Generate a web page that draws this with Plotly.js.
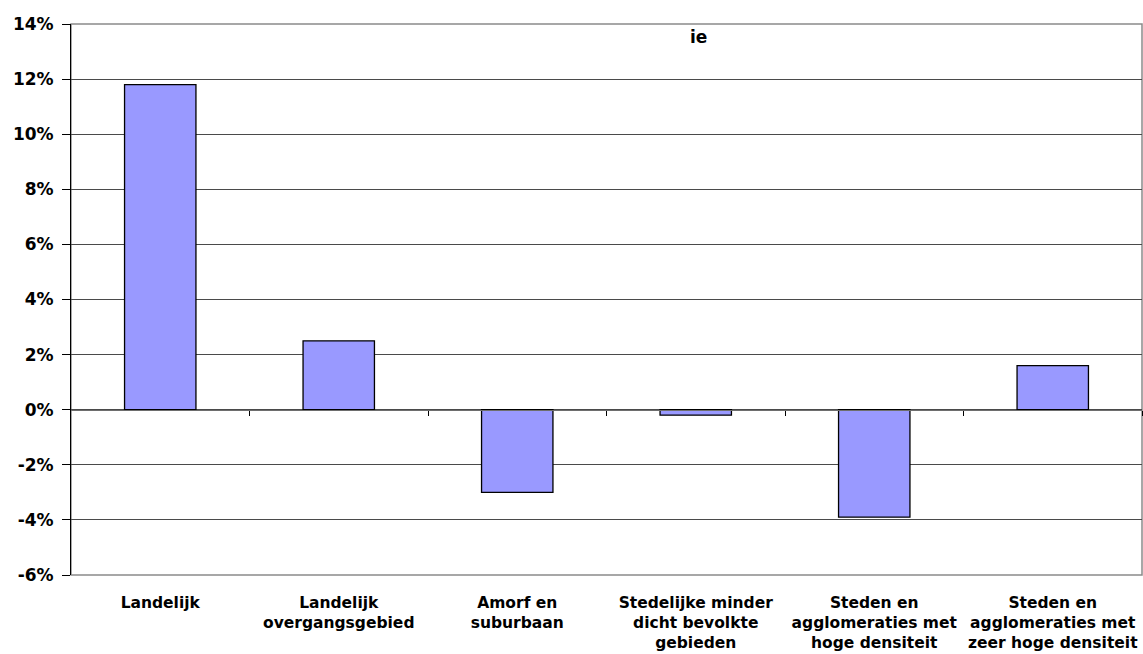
<!DOCTYPE html>
<html>
<head>
<meta charset="utf-8">
<script src="https://cdn.plot.ly/plotly-3.0.1.min.js"></script>
<style>
  html, body { margin: 0; padding: 0; background: #ffffff; }
  #chart { width: 1143px; height: 654px; }
</style>
</head>
<body>
<div id="chart"></div>
<script>
// Regions by degree of urbanisation
const categories = [
  'Landelijk',
  'Landelijk overgangsgebied',
  'Amorf en suburbaan',
  'Stedelijke minder dicht bevolkte gebieden',
  'Steden en agglomeraties met hoge densiteit',
  'Steden en agglomeraties met zeer hoge densiteit'
];

// Axis labels, wrapped over several lines
const categoryLabels = [
  'Landelijk',
  'Landelijk<br>overgangsgebied',
  'Amorf en<br>suburbaan',
  'Stedelijke minder<br>dicht bevolkte<br>gebieden',
  'Steden en<br>agglomeraties met<br>hoge densiteit',
  'Steden en<br>agglomeraties met<br>zeer hoge densiteit'
];

// Relative change per region (fraction)
const values = [0.118, 0.025, -0.030, -0.002, -0.039, 0.016];

// Value axis ticks
const yTickVals = [-0.06, -0.04, -0.02, 0, 0.02, 0.04, 0.06, 0.08, 0.10, 0.12, 0.14];
const yTickText = ['-6%', '-4%', '-2%', '0%', '2%', '4%', '6%', '8%', '10%', '12%', '14%'];

const FONT = '"DejaVu Sans", Arial, sans-serif';

// Tick marks between the categories on the zero line
const boundaryTicks = categories.map((c, i) => i + 0.5);

const trace = {
  type: 'bar',
  x: categories,
  y: values,
  marker: { color: '#9999ff', line: { color: '#000000', width: 1.3 } },
  hoverinfo: 'x+y'
};

const layout = {
  width: 1143,
  height: 654,
  margin: { l: 71, r: 1, t: 24, b: 79, pad: 0 },
  paper_bgcolor: '#ffffff',
  plot_bgcolor: '#ffffff',
  showlegend: false,
  bargap: 0.6,
  font: { family: FONT, color: '#000000' },
  xaxis: {
    type: 'category',
    categoryarray: categories,
    range: [-0.5, categories.length - 0.5],
    tickvals: categories,
    ticktext: categoryLabels,
    ticks: '',
    ticklabelstandoff: 16,
    showgrid: false,
    showline: false,
    zeroline: false,
    tickfont: { family: FONT, size: 15.5, weight: 'bold', color: '#000000' },
    fixedrange: true
  },
  xaxis2: {
    overlaying: 'x',
    anchor: 'free',
    position: 0.3,
    range: [-0.5, categories.length - 0.5],
    tickvals: boundaryTicks,
    showticklabels: false,
    ticks: 'outside',
    ticklen: 5,
    tickwidth: 1,
    tickcolor: '#000000',
    showline: true,
    linecolor: '#6e6e6e',
    linewidth: 1,
    showgrid: false,
    zeroline: false,
    fixedrange: true
  },
  yaxis: {
    range: [-0.06, 0.14],
    tickvals: yTickVals,
    ticktext: yTickText,
    ticks: 'outside',
    ticklen: 8,
    tickwidth: 1,
    tickcolor: '#000000',
    ticklabelstandoff: 5,
    showline: true,
    linecolor: '#000000',
    linewidth: 1,
    showgrid: true,
    gridcolor: '#4a4a4a',
    gridwidth: 1,
    zeroline: false,
    tickfont: { family: FONT, size: 17, weight: 'bold', color: '#000000' },
    fixedrange: true
  },
  shapes: [
    {
      type: 'rect', xref: 'paper', yref: 'paper', x0: 0, x1: 1, y0: 0, y1: 1,
      line: { color: '#8a8a8a', width: 1.5 }, fillcolor: 'rgba(0,0,0,0)', layer: 'below'
    }
  ],
  annotations: [
    {
      xref: 'paper', yref: 'paper', x: 0.5855, y: 0.976,
      xanchor: 'center', yanchor: 'middle', showarrow: false,
      text: 'ie',
      font: { family: FONT, size: 17, weight: 'bold', color: '#000000' }
    }
  ]
};

// An empty trace so the zero-line axis is drawn
const zeroAxisTrace = {
  type: 'scatter', x: [], y: [], xaxis: 'x2', yaxis: 'y', hoverinfo: 'skip', showlegend: false
};

Plotly.newPlot('chart', [trace, zeroAxisTrace], layout, { displayModeBar: false, staticPlot: true });
</script>
</body>
</html>
